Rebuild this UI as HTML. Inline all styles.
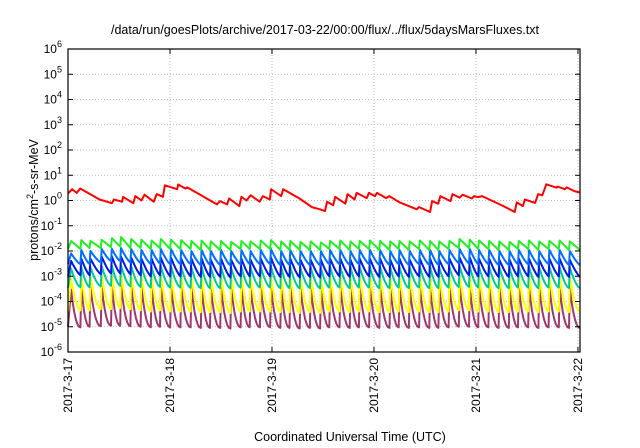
<!DOCTYPE html>
<html><head><meta charset="utf-8"><style>
html,body{margin:0;padding:0;background:#fff;}
svg{display:block;font-family:"Liberation Sans",sans-serif;}
</style></head><body>
<svg id="chart" width="640" height="448" viewBox="0 0 640 448">
<text x="325" y="34" font-size="12.5" text-anchor="middle" fill="#000">/data/run/goesPlots/archive/2017-03-22/00:00/flux/../flux/5daysMarsFluxes.txt</text>
<text x="350" y="441" font-size="12.5" text-anchor="middle" fill="#000">Coordinated Universal Time (UTC)</text>
<text transform="translate(38,200) rotate(-90)" font-size="12.5" text-anchor="middle" fill="#000">protons/cm<tspan dy="-5" font-size="9">2</tspan><tspan dy="5">-s-sr-MeV</tspan></text>
<g id="grid"></g>
<g id="series"></g>
<g id="axes"></g>
</svg>
<script>
const dayLabels = ["2017-3-17","2017-3-18","2017-3-19","2017-3-20","2017-3-21","2017-3-22"];
const yExponents = [-6,-5,-4,-3,-2,-1,0,1,2,3,4,5,6];
const redTimes = [0,0.04,0.085,0.12,0.31,0.43,0.45,0.53,0.54,0.64,0.66,0.72,0.75,0.84,0.87,0.93,0.95,1.07,1.08,1.15,1.17,1.36,1.46,1.49,1.56,1.58,1.68,1.70,1.75,1.79,1.88,1.91,1.98,1.99,2.09,2.11,2.27,2.39,2.47,2.52,2.54,2.60,2.62,2.72,2.74,2.81,2.83,2.93,2.95,3.01,3.03,3.12,3.15,3.25,3.42,3.44,3.55,3.57,3.63,3.65,3.75,3.77,3.84,3.87,3.96,3.98,4.02,4.06,4.27,4.38,4.40,4.46,4.48,4.58,4.61,4.65,4.69,4.79,4.80,4.87,4.89,4.97,5.02];
const redValues = [1.9,2.8,2.0,3.0,1.1,0.78,1.1,0.9,1.4,0.78,1.5,1.0,1.7,0.9,1.8,1.4,4.0,2.8,4.3,3.0,3.3,1.2,0.7,0.95,0.7,1.2,0.6,1.4,1.0,1.6,0.9,1.5,1.1,2.8,1.5,2.8,1.2,0.55,0.45,0.38,0.9,0.65,1.4,0.75,1.8,1.1,2.0,1.25,2.0,1.5,2.0,1.25,1.5,0.85,0.45,0.55,0.35,0.95,0.75,1.5,0.95,1.8,1.3,1.7,1.2,1.5,1.35,1.5,0.6,0.35,0.85,0.6,1.1,0.8,1.8,1.6,4.4,3.2,3.6,2.8,3.3,2.3,2.1];
const cycleTimes = [0.03,0.13,0.22,0.33,0.43,0.52,0.62,0.72,0.82,0.91,1.01,1.11,1.21,1.31,1.40,1.50,1.60,1.70,1.79,1.89,1.99,2.09,2.18,2.28,2.38,2.48,2.57,2.67,2.77,2.86,2.96,3.06,3.16,3.25,3.35,3.45,3.55,3.64,3.74,3.84,3.94,4.03,4.13,4.23,4.33,4.42,4.52,4.62,4.72,4.82,4.92];
const greenPeaks = [0.025,0.027,0.025,0.028,0.032,0.036,0.030,0.028,0.026,0.030,0.028,0.027,0.025,0.026,0.024,0.025,0.023,0.025,0.024,0.026,0.027,0.024,0.025,0.023,0.024,0.022,0.025,0.026,0.024,0.025,0.026,0.025,0.024,0.025,0.024,0.026,0.025,0.024,0.025,0.030,0.028,0.026,0.025,0.024,0.023,0.025,0.026,0.024,0.025,0.026,0.024];
const greenTroughs = [0.012,0.012,0.013,0.013,0.014,0.015,0.013,0.013,0.012,0.013,0.012,0.012,0.012,0.011,0.011,0.011,0.011,0.012,0.012,0.012,0.012,0.011,0.011,0.011,0.011,0.011,0.012,0.012,0.011,0.012,0.012,0.011,0.011,0.012,0.011,0.012,0.011,0.011,0.012,0.013,0.013,0.012,0.012,0.011,0.011,0.012,0.012,0.011,0.012,0.012,0.011];
const lightBluePeaks = [0.008,0.011,0.010,0.012,0.012,0.013,0.012,0.011,0.011,0.012,0.012,0.011,0.010,0.011,0.010,0.011,0.010,0.011,0.010,0.011,0.012,0.010,0.011,0.010,0.010,0.010,0.011,0.011,0.010,0.011,0.011,0.011,0.010,0.011,0.010,0.011,0.011,0.010,0.011,0.012,0.012,0.011,0.011,0.010,0.010,0.011,0.011,0.010,0.011,0.011,0.010];
const lightBlueTroughs = [0.003,0.003,0.003,0.0035,0.004,0.004,0.0035,0.0033,0.003,0.0032,0.003,0.003,0.003,0.0028,0.0028,0.0028,0.0027,0.003,0.003,0.003,0.003,0.0028,0.0028,0.0027,0.0028,0.0027,0.003,0.003,0.0028,0.003,0.003,0.0028,0.0028,0.003,0.0028,0.003,0.0028,0.0028,0.003,0.0033,0.0032,0.003,0.003,0.0028,0.0028,0.003,0.003,0.0028,0.003,0.003,0.0028];
const bluePeaks = [0.004,0.005,0.005,0.006,0.006,0.006,0.0055,0.005,0.005,0.0055,0.0055,0.005,0.005,0.005,0.0045,0.005,0.0045,0.005,0.0045,0.005,0.0055,0.0045,0.005,0.0045,0.0045,0.0045,0.005,0.005,0.0045,0.005,0.005,0.005,0.0045,0.005,0.0045,0.005,0.005,0.0045,0.005,0.0055,0.0055,0.005,0.005,0.0045,0.0045,0.005,0.005,0.0045,0.005,0.005,0.0045];
const blueTroughs = [0.001,0.0011,0.0011,0.0012,0.0013,0.0013,0.0012,0.0011,0.001,0.0011,0.001,0.001,0.001,0.00095,0.00095,0.00095,0.0009,0.001,0.001,0.001,0.001,0.00095,0.00095,0.0009,0.00095,0.0009,0.001,0.001,0.00095,0.001,0.001,0.00095,0.00095,0.001,0.00095,0.001,0.00095,0.00095,0.001,0.0011,0.0011,0.001,0.001,0.00095,0.00095,0.001,0.001,0.00095,0.001,0.001,0.00095];
const tealPeaks = [0.002,0.0023,0.0023,0.0025,0.0026,0.0027,0.0025,0.0024,0.0023,0.0025,0.0024,0.0023,0.0022,0.0023,0.0022,0.0023,0.0021,0.0023,0.0022,0.0023,0.0024,0.0022,0.0023,0.0021,0.0022,0.0021,0.0023,0.0023,0.0022,0.0023,0.0023,0.0023,0.0022,0.0023,0.0022,0.0023,0.0023,0.0022,0.0023,0.0025,0.0024,0.0023,0.0023,0.0022,0.0021,0.0023,0.0023,0.0022,0.0023,0.0023,0.0022];
const tealTroughs = [0.00035,0.00037,0.00037,0.0004,0.00042,0.00042,0.0004,0.00038,0.00036,0.00038,0.00036,0.00036,0.00035,0.00034,0.00034,0.00034,0.00033,0.00036,0.00036,0.00036,0.00036,0.00034,0.00034,0.00033,0.00034,0.00033,0.00036,0.00036,0.00034,0.00036,0.00036,0.00034,0.00034,0.00036,0.00034,0.00036,0.00034,0.00034,0.00036,0.00038,0.00038,0.00036,0.00036,0.00034,0.00034,0.00036,0.00036,0.00034,0.00036,0.00036,0.00034];
const yellowPeaks = [0.0008,0.001,0.001,0.0011,0.0011,0.0012,0.0011,0.001,0.001,0.0011,0.001,0.001,0.00095,0.001,0.00095,0.001,0.0009,0.001,0.00095,0.001,0.001,0.00095,0.001,0.0009,0.00095,0.0009,0.001,0.001,0.00095,0.001,0.001,0.001,0.00095,0.001,0.00095,0.001,0.001,0.00095,0.001,0.0011,0.001,0.001,0.001,0.00095,0.0009,0.001,0.001,0.00095,0.001,0.001,0.00095];
const yellowTroughs = [0.00004,0.000045,0.000045,0.00005,0.00005,0.000055,0.00005,0.000045,0.00004,0.000045,0.00004,0.00004,0.00004,0.000038,0.000038,0.000038,0.000035,0.00004,0.00004,0.00004,0.00004,0.000038,0.000038,0.000035,0.000038,0.000035,0.00004,0.00004,0.000038,0.00004,0.00004,0.000038,0.000038,0.00004,0.000038,0.00004,0.000038,0.000038,0.00004,0.000045,0.000045,0.00004,0.00004,0.000038,0.000038,0.00004,0.00004,0.000038,0.00004,0.00004,0.000038];
const magentaPeaks = [0.0003,0.00035,0.00035,0.0004,0.0004,0.00045,0.0004,0.00038,0.00036,0.0004,0.00038,0.00037,0.00035,0.00036,0.00034,0.00036,0.00033,0.00036,0.00034,0.00036,0.00037,0.00034,0.00036,0.00033,0.00034,0.00033,0.00036,0.00036,0.00034,0.00036,0.00036,0.00036,0.00034,0.00036,0.00034,0.00036,0.00036,0.00034,0.00036,0.0004,0.00038,0.00036,0.00036,0.00034,0.00033,0.00036,0.00036,0.00034,0.00036,0.00036,0.00034];
const magentaTroughs = [0.00001,0.0000095,0.00001,0.0000105,0.000011,0.000011,0.0000105,0.00001,0.0000095,0.00001,0.0000095,0.0000095,0.0000095,0.000009,0.000009,0.000009,0.0000085,0.0000095,0.0000095,0.0000095,0.0000095,0.000009,0.000009,0.0000085,0.000009,0.0000085,0.0000095,0.0000095,0.000009,0.0000095,0.0000095,0.000009,0.000009,0.0000095,0.000009,0.0000095,0.000009,0.000009,0.0000095,0.00001,0.00001,0.0000095,0.0000095,0.000009,0.000009,0.0000095,0.0000095,0.000009,0.0000095,0.0000095,0.000009];

const NS = "http://www.w3.org/2000/svg";
const L = 68, R = 580, T = 49, B = 352, XMAX = 5.02;
function xScale(d){ return L + d / XMAX * (R - L); }
function yScale(v){ return B - (Math.log10(v) + 6) / 12 * (B - T); }
function mk(tag, attrs, parent){ const e = document.createElementNS(NS, tag); for (const k in attrs) e.setAttribute(k, attrs[k]); parent.appendChild(e); return e; }

const grid = document.getElementById('grid');
const axes = document.getElementById('axes');
const series = document.getElementById('series');

yExponents.forEach((ex, i) => {
  const y = yScale(Math.pow(10, ex));
  if (ex > -6 && ex < 6) {
    const g = mk('line', {x1:L, x2:R, y1:y, y2:y, stroke:'#aaa', 'stroke-width':0.8, 'stroke-dasharray':'1,2'}, grid);
    
    
  }
  const t1 = mk('line', {x1:L, x2:L+5, y1:y, y2:y, stroke:'#000', 'stroke-width':1}, axes);
  
  
  const t2 = mk('line', {x1:R-5, x2:R, y1:y, y2:y, stroke:'#000', 'stroke-width':1}, axes);
  
  
  const lab = mk('text', {x:L-6, y:y+4, 'font-size':12, 'text-anchor':'end', fill:'#000'}, axes);
  
  
  lab.appendChild(document.createTextNode('10'));
  const sup = mk('tspan', {dy:-6, 'font-size':9}, lab);
  sup.textContent = String(ex);
});

dayLabels.forEach((lbl, i) => {
  const x = xScale(i);
  if (i > 0) {
    const g = mk('line', {x1:x, x2:x, y1:T, y2:B, stroke:'#aaa', 'stroke-width':0.8, 'stroke-dasharray':'1,2'}, grid);
    
    
  }
  const t1 = mk('line', {x1:x, x2:x, y1:B-5, y2:B, stroke:'#000', 'stroke-width':1}, axes);
  
  
  const t2 = mk('line', {x1:x, x2:x, y1:T, y2:T+5, stroke:'#000', 'stroke-width':1}, axes);
  
  
  const lab = mk('text', {transform:'translate(' + (x+4) + ',' + (B+6) + ') rotate(-90)', 'font-size':12, 'text-anchor':'end', fill:'#000'}, axes);
  
  
  lab.textContent = lbl;
});

const frame = mk('rect', {x:L, y:T, width:R-L, height:B-T, fill:'none', stroke:'#000', 'stroke-width':1.2}, axes);



function sawPath(peaks, troughs, k){
  let pts = [[xScale(0), yScale(troughs[0])]];
  for (let i = 0; i < cycleTimes.length; i++) {
    const t0 = cycleTimes[i];
    const t1 = i + 1 < cycleTimes.length ? cycleTimes[i+1] - 0.008 : XMAX;
    const lp = Math.log10(peaks[i]);
    const nextT = i + 1 < troughs.length ? troughs[i+1] : troughs[i];
    const lt = Math.log10(nextT);
    pts.push([xScale(t0), yScale(peaks[i])]);
    const n = 6;
    for (let j = 1; j <= n; j++) {
      const s = j / n;
      const t = t0 + (t1 - t0) * s;
      if (t > XMAX) break;
      const lv = lt + (lp - lt) * Math.pow(1 - s, k);
      pts.push([xScale(t), yScale(Math.pow(10, lv))]);
    }
  }
  return 'M' + pts.map(p => p[0].toFixed(1) + ',' + p[1].toFixed(1)).join(' L');
}

const lower = [
  ['magenta', magentaPeaks, magentaTroughs, '#a0386e', 2.2],
  ['yellow', yellowPeaks, yellowTroughs, '#ffff00', 1.8],
  ['teal', tealPeaks, tealTroughs, '#00c89a', 1.6],
  ['blue', bluePeaks, blueTroughs, '#0018e8', 1.3],
  ['light-blue', lightBluePeaks, lightBlueTroughs, '#0070ff', 1.3],
  ['green', greenPeaks, greenTroughs, '#22ee22', 1.0]
];
lower.forEach(s => {
  const p = mk('path', {d: sawPath(s[1], s[2], s[4]), fill:'none', stroke:s[3], 'stroke-width':2, 'stroke-linejoin':'round'}, series);
  
  
});

const redD = 'M' + redTimes.map((t, i) => xScale(Math.min(t, XMAX)).toFixed(1) + ',' + yScale(redValues[i]).toFixed(1)).join(' L');
const red = mk('path', {d: redD, fill:'none', stroke:'#ff0000', 'stroke-width':2, 'stroke-linejoin':'round'}, series);


</script>
</body></html>
